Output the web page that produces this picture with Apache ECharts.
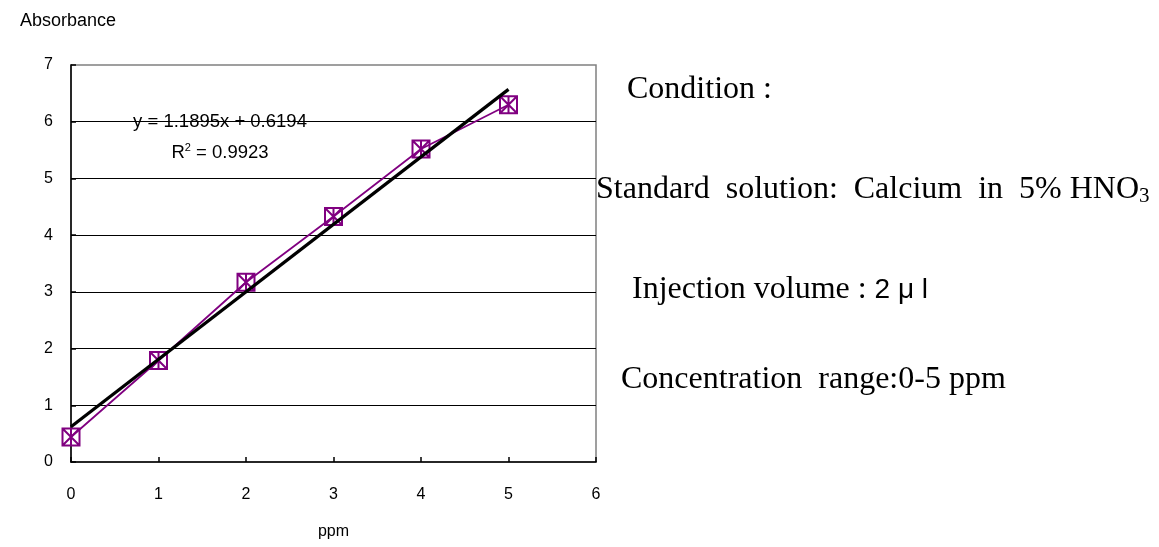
<!DOCTYPE html>
<html><head><meta charset="utf-8">
<script src="https://cdn.jsdelivr.net/npm/echarts@6/dist/echarts.min.js"></script>
<style>html,body{margin:0;padding:0;background:#fff}#c{width:1159px;height:547px}</style>
</head><body><div id="c"></div>
<script>
const xCats = [0, 1, 2, 3, 4, 5];
const absorbance = [0.44, 1.79, 3.17, 4.33, 5.52, 6.30];
const trendX = [0, 5];
const trendY = [0.62, 6.57];
const eqText = 'y = 1.1895x + 0.6194';
const r2Text = '0.9923';

const chart = echarts.init(document.getElementById('c'));
const sans = '"Liberation Sans", Arial, sans-serif';
const serif = '"Liberation Serif", "Times New Roman", serif';
const purple = '#800080';
const marker = 'path://M0 0L16 0L16 16L0 16Z M0 0L16 16 M16 0L0 16 M8 0L8 16';
const F = 32;

chart.setOption({
  animation: false,
  grid: { left: 71, right: 563, top: 65, bottom: 85, show: true, borderColor: '#808080', borderWidth: 1.5, backgroundColor: 'transparent' },
  xAxis: {
    type: 'value', min: 0, max: 6, interval: 1,
    name: 'ppm', nameLocation: 'middle', nameGap: 62,
    nameTextStyle: { fontFamily: sans, fontSize: 16, color: '#000' },
    axisLine: { lineStyle: { color: '#000', width: 1.5 } },
    axisTick: { inside: true, length: 5, lineStyle: { color: '#000', width: 1.5 } },
    axisLabel: { margin: 25, fontFamily: sans, fontSize: 16, color: '#000' },
    splitLine: { show: false }
  },
  yAxis: {
    type: 'value', min: 0, max: 7, interval: 1,
    axisLine: { show: true, lineStyle: { color: '#000', width: 1.5 } },
    axisTick: { show: true, inside: true, length: 5, lineStyle: { color: '#000', width: 1.5 } },
    axisLabel: { margin: 18, fontFamily: sans, fontSize: 16, color: '#000' },
    splitLine: { show: true, showMinLine: false, showMaxLine: false, lineStyle: { color: '#000', width: 1.2 } }
  },
  series: [
    {
      type: 'line',
      data: xCats.map((x, i) => [x, absorbance[i]]),
      lineStyle: { color: purple, width: 1.8 },
      symbol: marker, symbolSize: 17,
      itemStyle: { color: 'rgba(0,0,0,0)', borderColor: purple, borderWidth: 2 },
      z: 3
    },
    {
      type: 'line',
      data: trendX.map((x, i) => [x, trendY[i]]),
      lineStyle: { color: '#000', width: 3.2 },
      symbol: 'none',
      z: 4
    }
  ],
  graphic: [
    { type: 'text', x: 20, y: 21, style: { text: 'Absorbance', font: '18px ' + sans, fill: '#000', verticalAlign: 'middle' } },
    { type: 'text', x: 220, y: 122, style: { text: eqText, font: '18.5px ' + sans, fill: '#000', align: 'center', verticalAlign: 'middle' }, z: 10 },
    { type: 'text', x: 220, y: 153, style: {
        text: '{a|R}{s|2}{a| = ' + r2Text + '}', align: 'center', verticalAlign: 'middle',
        rich: { a: { font: '18.5px ' + sans, fill: '#000' }, s: { font: '11px ' + sans, fill: '#000', padding: [0,0,10,0] } }
      }, z: 10 },
    { type: 'text', x: 627, y: 90, style: { text: 'Condition :', font: F + 'px ' + serif, fill: '#000', verticalAlign: 'middle' } },
    { type: 'text', x: 596, y: 190, style: {
        text: '{a|Standard  solution:  Calcium  in  5% HNO}{s|3}', verticalAlign: 'middle',
        rich: { a: { font: F + 'px ' + serif, fill: '#000' }, s: { font: '21px ' + serif, fill: '#000', padding: [13,0,0,0] } }
      } },
    { type: 'text', x: 632, y: 290, style: {
        text: '{a|Injection volume : }{b|2 μ l}', verticalAlign: 'middle',
        rich: { a: { font: F + 'px ' + serif, fill: '#000' }, b: { font: '28px ' + sans, fill: '#000' } }
      } },
    { type: 'text', x: 621, y: 380, style: { text: 'Concentration  range:0-5 ppm', font: F + 'px ' + serif, fill: '#000', verticalAlign: 'middle' } }
  ]
});
</script></body></html>
